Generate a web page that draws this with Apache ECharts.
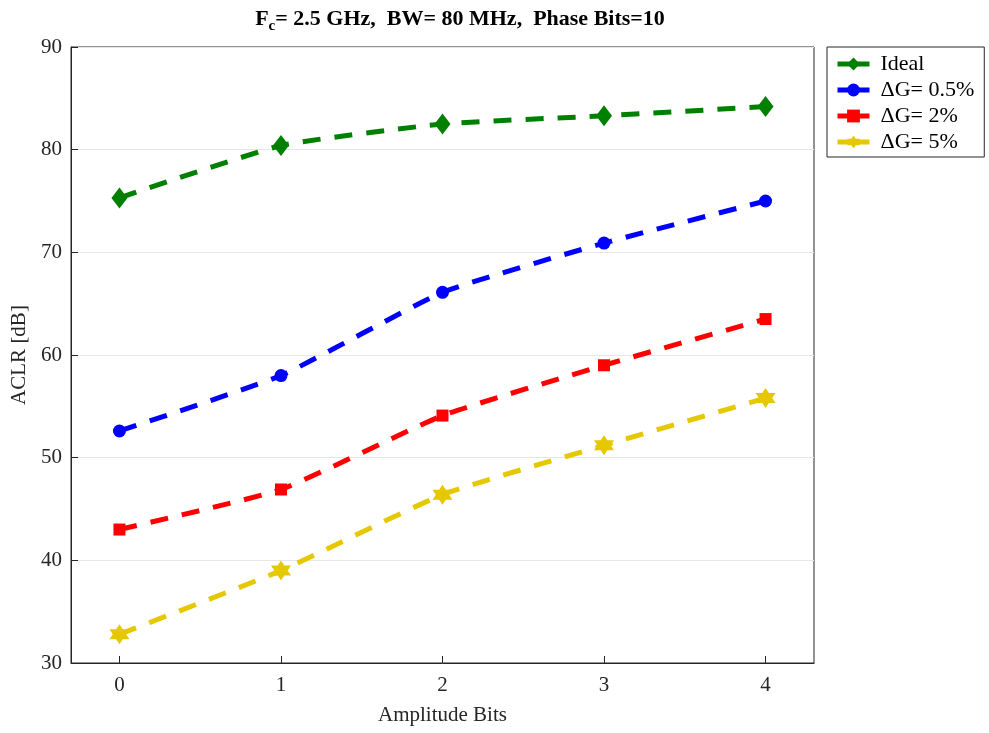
<!DOCTYPE html>
<html>
<head>
<meta charset="utf-8">
<script src="https://cdn.jsdelivr.net/npm/echarts@6/dist/echarts.min.js"></script>
<style>
  html, body { margin: 0; padding: 0; background: #fff; }
  #chart { width: 989px; height: 733px; }
</style>
</head>
<body>
<div id="chart"></div>
<script>
// amplitude bits on x
const bits = [0, 1, 2, 3, 4]
const ideal = [75.3, 80.4, 82.5, 83.3, 84.2]
const dg05 = [52.6, 58.0, 66.1, 70.9, 75.0]
const dg2 = [43.0, 46.9, 54.1, 59.0, 63.5]
const dg5 = [32.8, 39.0, 46.4, 51.2, 55.8]
const yTicks = [30, 40, 50, 60, 70, 80, 90]

const font = 'Liberation Serif'
const axisColor = '#262626'
const star6 = 'path://M0,-10 L2.9,-5 L8.66,-5 L5.8,0 L8.66,5 L2.9,5 L0,10 L-2.9,5 L-8.66,5 L-5.8,0 L-8.66,-5 L-2.9,-5 Z'

function mkSeries(name, values, color, symbol, size) {
  return {
    name,
    type: 'line',
    data: bits.map((b, i) => [b, values[i]]),
    smooth: 0.15,
    symbol,
    symbolSize: size,
    lineStyle: { color, width: 5, type: [18, 14] },
    itemStyle: { color },
    z: 3
  }
}

const chart = echarts.init(document.getElementById('chart'))
chart.setOption({
  animation: false,
  title: {
    text: '{b|F}{s|c}{b|= 2.5 GHz,  BW= 80 MHz,  Phase Bits=10}',
    left: 455,
    top: 0,
    textAlign: 'center',
    textStyle: {
      rich: {
        b: { fontFamily: font, fontWeight: 'bold', fontSize: 22, color: '#000' },
        s: { fontFamily: font, fontWeight: 'bold', fontSize: 15, color: '#000', verticalAlign: 'bottom', padding: [14, 0, 0, 0] }
      }
    }
  },
  legend: {
    orient: 'vertical',
    left: 827,
    top: 47,
    borderColor: axisColor,
    borderWidth: 1,
    padding: [6, 10, 4, 8],
    itemGap: 4,
    itemWidth: 32,
    itemHeight: 16,
    lineStyle: { width: 5, type: 'solid' },
    textStyle: { fontFamily: font, fontSize: 22, color: '#000', padding: [0, 0, 0, 6] },
    data: ['Ideal', 'ΔG= 0.5%', 'ΔG= 2%', 'ΔG= 5%']
  },
  grid: {
    left: 71, right: 175, top: 47, bottom: 70,
    show: true, borderColor: axisColor, borderWidth: 1, backgroundColor: '#fff'
  },
  xAxis: {
    type: 'value',
    min: -0.3,
    max: 4.3,
    name: 'Amplitude Bits',
    nameLocation: 'middle',
    nameGap: 42,
    nameTextStyle: { fontFamily: font, fontSize: 21, color: axisColor },
    axisLine: { show: true, onZero: false, lineStyle: { color: axisColor } },
    axisTick: { show: true, inside: true, length: 7, customValues: bits, lineStyle: { color: axisColor } },
    axisLabel: { customValues: bits, fontFamily: font, fontSize: 21, color: axisColor, margin: 12 },
    splitLine: { show: false }
  },
  yAxis: {
    type: 'value',
    min: yTicks[0],
    max: yTicks[yTicks.length - 1],
    interval: 10,
    name: 'ACLR [dB]',
    nameLocation: 'middle',
    nameGap: 40,
    nameTextStyle: { fontFamily: font, fontSize: 21, color: axisColor },
    axisLine: { show: true, onZero: false, lineStyle: { color: axisColor } },
    axisTick: { show: true, inside: true, length: 7, lineStyle: { color: axisColor } },
    axisLabel: { fontFamily: font, fontSize: 21, color: axisColor, margin: 9 },
    splitLine: { show: true, lineStyle: { color: '#e6e6e6', width: 1 } }
  },
  series: [
    mkSeries('Ideal', ideal, '#008000', 'diamond', [16, 21]),
    mkSeries('ΔG= 0.5%', dg05, '#0000ff', 'circle', 13),
    mkSeries('ΔG= 2%', dg2, '#ff0000', 'rect', 12),
    mkSeries('ΔG= 5%', dg5, '#e6c800', star6, 20)
  ]
})
</script>
</body>
</html>
